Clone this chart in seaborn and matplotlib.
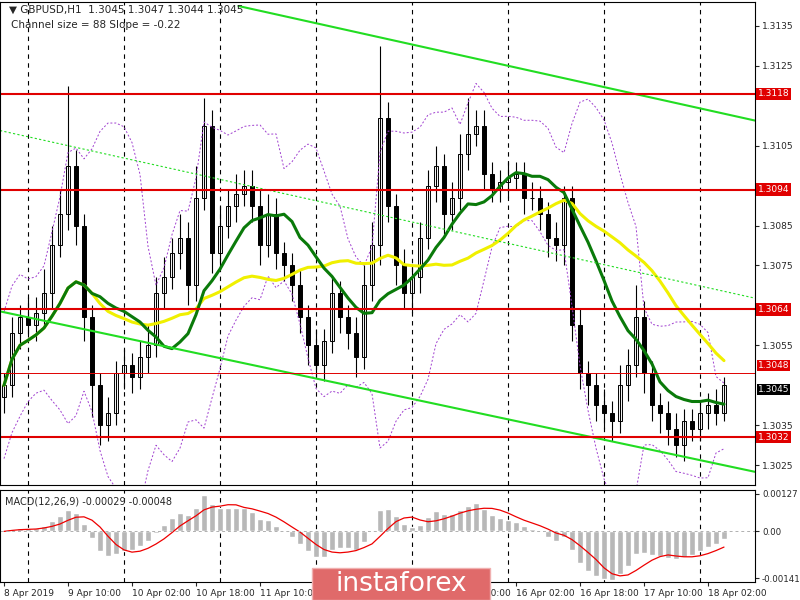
import numpy as np
import pandas as pd
import matplotlib
matplotlib.use("Agg")
import matplotlib.pyplot as plt
import matplotlib.transforms as mtrans
import seaborn as sns

sns.set_style("white")
plt.rcParams['font.family'] = ['DejaVu Sans']

# 2-hour candles, closes in pips above 1.3000
closes = [45, 58, 62, 60, 63, 68, 80, 88, 100, 85, 62, 45, 35, 38, 48, 50, 47, 52, 55, 68,
          72, 78, 82, 70, 92, 110, 78, 85, 90, 93, 95, 90, 80, 88, 78, 75, 70, 62, 55, 50,
          56, 68, 62, 58, 52, 70, 80, 112, 90, 75, 68, 72, 82, 95, 100, 88, 92, 103, 108, 110,
          98, 94, 96, 97, 98, 92, 92, 88, 82, 80, 92, 60, 48, 45, 40, 38, 36, 45, 50, 62,
          48, 40, 38, 34, 30, 36, 34, 38, 40, 38, 45]
up_wick = [3, 4, 3, 5, 4, 6, 5, 6, 20, 4, 3, 3, 3, 4, 3, 4, 3, 4, 5, 4,
           5, 4, 6, 4, 8, 7, 4, 5, 4, 5, 4, 4, 4, 5, 4, 3, 3, 4, 3, 4,
           3, 4, 3, 3, 4, 5, 6, 18, 4, 3, 4, 3, 4, 4, 5, 3, 4, 5, 9, 4,
           4, 3, 3, 4, 3, 3, 4, 3, 3, 4, 3, 3, 4, 3, 3, 4, 3, 5, 4, 8,
           4, 3, 3, 3, 4, 3, 3, 3, 3, 4, 2]
dn_wick = [4, 3, 4, 3, 4, 3, 4, 3, 4, 5, 6, 8, 5, 4, 3, 4, 4, 3, 4, 3,
           4, 3, 4, 5, 4, 3, 5, 4, 3, 4, 3, 4, 5, 3, 4, 4, 4, 4, 5, 3,
           4, 3, 4, 4, 5, 3, 4, 5, 4, 5, 4, 5, 4, 3, 4, 5, 4, 3, 4, 3,
           4, 3, 3, 4, 3, 4, 3, 4, 5, 4, 5, 4, 4, 5, 4, 4, 5, 3, 4, 3,
           5, 4, 5, 4, 3, 4, 3, 3, 4, 3, 2]
hours = [2 * i for i in range(len(closes))]

tick_hours = [0, 16, 32, 48, 64, 80, 96, 112, 128, 144, 160, 176]
tick_labels = ["8 Apr 2019", "9 Apr 10:00", "10 Apr 02:00", "10 Apr 18:00", "11 Apr 10:00",
               "12 Apr 02:00", "12 Apr 18:00", "15 Apr 10:00", "16 Apr 02:00", "16 Apr 18:00",
               "17 Apr 10:00", "18 Apr 02:00"]
day_lines = [6, 30, 54, 78, 102, 126, 150, 174]
price_ticks = [1.3025, 1.3035, 1.3055, 1.3075, 1.3085, 1.3105, 1.3125, 1.3135]
levels = [1.3118, 1.3094, 1.3064, 1.3032]
level_thin = 1.3048
last_price = 1.3045
chan_top = ([58.6, 187.75], [1.3140, 1.31113])
chan_bot = ([-1, 187.75], [1.30635, 1.30233])
chan_mid = ([-1, 187.75], [1.31088, 1.30668])

c = pd.Series(closes) / 10000 + 1.3
o = c.shift(1).fillna(c.iloc[0] - 0.0003)
hi = np.maximum(o, c) + np.array(up_wick) / 10000
lo = np.minimum(o, c) - np.array(dn_wick) / 10000
fast = c.rolling(12, min_periods=1).mean()
slow = c.rolling(25, min_periods=1).mean()
bb_mid = c.rolling(10, min_periods=1).mean()
bb_sd = c.rolling(10, min_periods=2).std().bfill()
macd = c.ewm(span=6).mean() - c.ewm(span=13).mean()
signal = macd.rolling(5, min_periods=1).mean()

fig = plt.figure(figsize=(8, 6), dpi=100)
ax = fig.add_axes([0.0, 1 - 485 / 600, 755 / 800, 483 / 600])
ax2 = fig.add_axes([0.0, 1 - 582 / 600, 755 / 800, 92 / 600])

for a in (ax, ax2):
    for d in day_lines:
        a.axvline(d, color="black", ls=(0, (4, 4)), lw=0.8, zorder=0)
    for s in a.spines.values():
        s.set_color("black")
    a.set_xlim(-1, 187.75)
    a.yaxis.tick_right()
    a.tick_params(axis="y", labelsize=6.5, length=3, pad=2, right=True)

# candles
for h, oo, cc, hh, ll in zip(hours, o, c, hi, lo):
    ax.vlines(h, ll, hh, color="black", lw=0.8)
    if cc >= oo:
        ax.bar(h, cc - oo, bottom=oo, width=1.2, color="white", edgecolor="black", lw=0.7)
    else:
        ax.bar(h, oo - cc, bottom=cc, width=1.2, color="black", edgecolor="black", lw=0.7)

ax.plot(hours, bb_mid + 2 * bb_sd, color="#a040d0", ls=(0, (2, 2)), lw=0.7)
ax.plot(hours, bb_mid - 2 * bb_sd, color="#a040d0", ls=(0, (2, 2)), lw=0.7)
sns.lineplot(x=hours, y=slow, ax=ax, color="#f0f000", lw=2.2)
sns.lineplot(x=hours, y=fast, ax=ax, color="#0a7a0a", lw=2.2)
ax.plot(*chan_top, color="#22dd22", lw=1.5)
ax.plot(*chan_bot, color="#22dd22", lw=1.5)
ax.plot(*chan_mid, color="#22dd22", lw=0.8, ls=(0, (2, 2)))
for lv in levels:
    ax.axhline(lv, color="#e00000", lw=1.5)
ax.axhline(level_thin, color="#e00000", lw=0.7)

ax.set_ylim(1.3020, 1.3141)
ax.set_yticks(price_ticks)
ax.yaxis.set_major_formatter(matplotlib.ticker.FormatStrFormatter("%.4f"))
ax.set_xticks([])
ax.set_ylabel("")
tr = mtrans.blended_transform_factory(ax.transAxes, ax.transData)
for lv in levels:
    ax.text(1.004, lv, f"{lv:.4f}", transform=tr, fontsize=6.5, color="white", va="center",
            bbox=dict(boxstyle="square,pad=0.2", fc="#e00000", ec="none"))
ax.text(1.004, level_thin + 0.0002, f"{level_thin:.4f}", transform=tr, fontsize=6.5, color="white",
        va="center", bbox=dict(boxstyle="square,pad=0.1", fc="#e00000", ec="none"))
ax.text(1.004, last_price - 0.0001, f"{last_price:.4f}", transform=tr, fontsize=6.5, color="white",
        va="center", bbox=dict(boxstyle="square,pad=0.1", fc="black", ec="none"))
ax.text(0.012, 0.995, "\u25bc GBPUSD,H1  1.3045 1.3047 1.3044 1.3045", transform=ax.transAxes,
        fontsize=7.5, va="top")
ax.text(0.015, 0.963, "Channel size = 88 Slope = -0.22", transform=ax.transAxes, fontsize=7.5, va="top")

# MACD
ax2.bar(hours, macd, width=1.3, color="#b8b8b8")
ax2.plot(hours, signal, color="#ee0000", lw=0.9)
ax2.axhline(0, color="#b0b0b0", ls=(0, (3, 3)), lw=0.7)
ax2.set_ylim(macd.min() * 1.05, macd.max() * 1.15)
ax2.set_yticks([macd.min() * 0.97, 0, macd.max() * 1.05])
ax2.set_yticklabels(["-0.00141", "0.00", "0.00127"], fontsize=6.2)
ax2.set_xticks(tick_hours)
ax2.set_xticklabels(tick_labels, fontsize=6.5, ha="left")
ax2.tick_params(axis="x", length=3, pad=2, bottom=True)
ax2.text(0.007, 0.93, "MACD(12,26,9) -0.00029 -0.00048", transform=ax2.transAxes, fontsize=7, va="top")

fig.patches.append(plt.Rectangle((312 / 800, 0), 178 / 800, 32 / 600, transform=fig.transFigure,
                                 fc="#e06a6a", ec="#f0b0b0", zorder=10))
fig.text(401 / 800, 16 / 600, "instaforex", color="white", fontsize=19, ha="center", va="center", zorder=11)

fig.savefig("out.png", dpi=100)
